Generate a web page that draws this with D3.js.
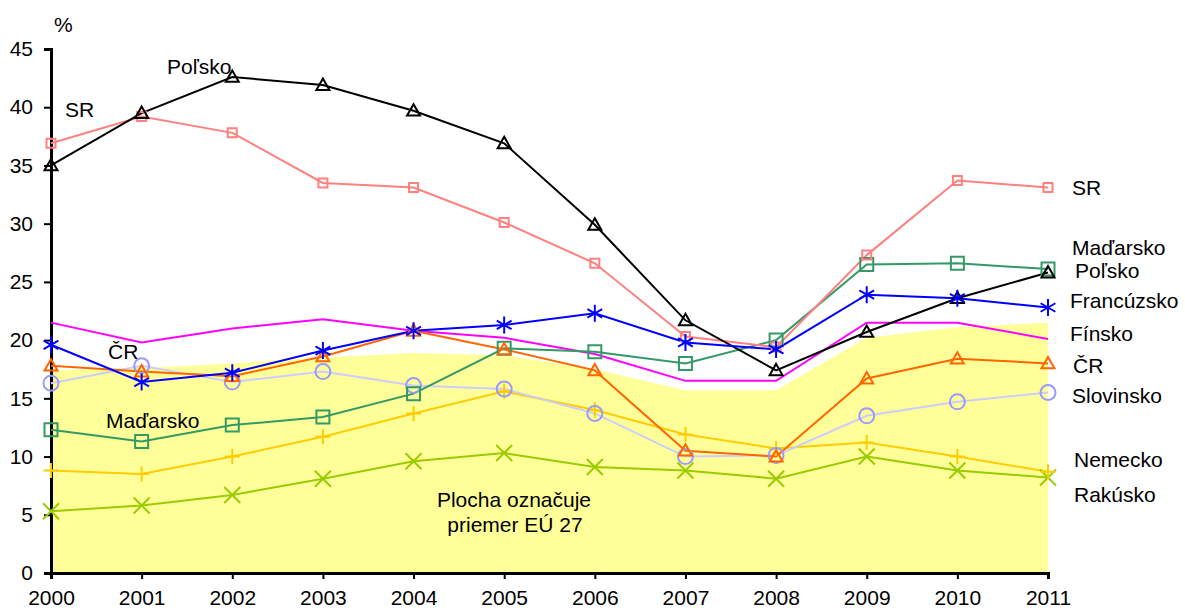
<!DOCTYPE html>
<html><head><meta charset="utf-8">
<script src="https://cdn.jsdelivr.net/npm/d3@7"></script>
<style>body{margin:0;background:#fff}svg text{font-family:"Liberation Sans",Arial,sans-serif;fill:#000}</style>
</head><body><svg id="c" width="1185" height="610"></svg>
<script>
const years = [2000,2001,2002,2003,2004,2005,2006,2007,2008,2009,2010,2011];
const yTicks = [0,5,10,15,20,25,30,35,40,45];
const eu27 = [17.4,17.6,18.0,18.5,18.9,18.7,17.5,15.7,15.7,20.2,21.1,21.5];
const finsko = [21.5,19.8,21.0,21.8,20.8,20.2,18.8,16.5,16.5,21.5,21.5,20.1];
const rakusko = [5.3,5.8,6.7,8.1,9.6,10.3,9.1,8.8,8.1,10.0,8.8,8.2];
const nemecko = [8.8,8.5,10.0,11.7,13.7,15.6,14.0,11.9,10.7,11.2,10.0,8.7];
const slovinsko = [16.3,17.8,16.4,17.3,16.1,15.8,13.7,10.0,10.1,13.5,14.7,15.5];
const madarsko = [12.3,11.3,12.7,13.4,15.4,19.3,19.0,18.0,20.0,26.5,26.6,26.1];
const cr = [17.8,17.3,16.9,18.6,20.8,19.2,17.4,10.5,10.0,16.7,18.4,18.0];
const sr = [36.9,39.2,37.8,33.5,33.1,30.1,26.6,20.3,19.4,27.3,33.7,33.1];
const polsko = [35.0,39.5,42.6,41.9,39.7,36.9,29.9,21.7,17.4,20.7,23.6,25.8];
const francuzsko = [19.6,16.4,17.2,19.1,20.8,21.3,22.3,19.8,19.2,23.9,23.6,22.8];

const series = [
  {name:"Fínsko", values:finsko, line:"#FF00FF", mark:null},
  {name:"Rakúsko", values:rakusko, line:"#99CC00", mark:"x", mc:"#99CC00", ms:8},
  {name:"Nemecko", values:nemecko, line:"#FFCC00", mark:"plus", mc:"#FFCC00", ms:7.5},
  {name:"Slovinsko", values:slovinsko, line:"#CCCCFF", mark:"circle", mc:"#9999FF", ms:7.5},
  {name:"Maďarsko", values:madarsko, line:"#339966", mark:"square", mc:"#339966", ms:6.5},
  {name:"ČR", values:cr, line:"#FF6600", mark:"tri", mc:"#FF6600", ms:6.5},
  {name:"SR", values:sr, line:"#FF8080", mark:"square", mc:"#FF8080", ms:4.5},
  {name:"Poľsko", values:polsko, line:"#000000", mark:"tri", mc:"#000000", ms:6.5},
  {name:"Francúzsko", values:francuzsko, line:"#0000FF", mark:"star", mc:"#0000FF", ms:8.5}
];

const svg = d3.select("#c");
const x = d3.scaleLinear().domain([2000,2011]).range([51,1048]);
const y = d3.scaleLinear().domain([0,45]).range([573,49]);

// EU27 area
svg.append("path").datum(eu27)
  .attr("d", d3.area().x((d,i)=>x(years[i])).y0(y(0)).y1(d=>y(d)))
  .attr("fill","#FFFF99");

// axes
const ya = svg.append("g").attr("transform","translate(51,0)")
  .call(d3.axisLeft(y).tickValues(yTicks).tickSize(7).tickPadding(11));
const xa = svg.append("g").attr("transform","translate(0,573)")
  .call(d3.axisBottom(x).tickValues(years).tickFormat(d3.format("d")).tickSize(6).tickPadding(8));
[ya,xa].forEach(a=>{
  a.select(".domain").attr("stroke","#000").attr("stroke-width",3);
  a.selectAll(".tick line").attr("stroke","#000").attr("stroke-width",2);
  a.selectAll("text").attr("font-size",21).attr("font-family","Liberation Sans, Arial, sans-serif");
});
xa.selectAll("text").attr("y",32).attr("dy",0);

const line = d3.line().x((d,i)=>x(years[i])).y(d=>y(d));

function markerPath(type, s){
  switch(type){
    case "x": return `M${-s},${-s}L${s},${s}M${-s},${s}L${s},${-s}`;
    case "plus": return `M${-s},0L${s},0M0,${-s}L0,${s}`;
    case "square": return `M${-s},${-s}H${s}V${s}H${-s}Z`;
    case "tri": return `M0,${-s}L${s},${s*0.75}L${-s},${s*0.75}Z`;
    case "star": {const a=s*0.87, b=s*0.5; return `M0,${-s}L0,${s}M${-a},${-b}L${a},${b}M${-a},${b}L${a},${-b}`;}
  }
  return "";
}

series.forEach(s=>{
  svg.append("path").datum(s.values).attr("d",line)
    .attr("fill","none").attr("stroke",s.line).attr("stroke-width",2);
});
series.forEach(s=>{
  if(!s.mark) return;
  const g = svg.append("g");
  s.values.forEach((v,i)=>{
    if(s.mark==="circle"){
      g.append("circle").attr("cx",x(years[i])).attr("cy",y(v)).attr("r",s.ms)
        .attr("fill","none").attr("stroke",s.mc).attr("stroke-width",2);
    } else {
      g.append("path").attr("transform",`translate(${x(years[i])},${y(v)})`)
        .attr("d",markerPath(s.mark,s.ms)).attr("fill","none")
        .attr("stroke",s.mc).attr("stroke-width",2);
    }
  });
});

// text labels
const labels = [
  {t:"%", x:54, y:32},
  {t:"SR", x:65, y:117},
  {t:"Poľsko", x:167, y:74},
  {t:"ČR", x:108, y:359},
  {t:"Maďarsko", x:106, y:428},
  {t:"SR", x:1072, y:195},
  {t:"Maďarsko", x:1072, y:255},
  {t:"Poľsko", x:1075, y:278},
  {t:"Francúzsko", x:1070, y:308},
  {t:"Fínsko", x:1070, y:341},
  {t:"ČR", x:1073, y:373},
  {t:"Slovinsko", x:1072, y:403},
  {t:"Nemecko", x:1074, y:467},
  {t:"Rakúsko", x:1074, y:502}
];
svg.append("g").selectAll("text").data(labels).join("text")
  .attr("x",d=>d.x).attr("y",d=>d.y).attr("font-size",21).text(d=>d.t);
svg.append("text").attr("x",514).attr("y",507).attr("text-anchor","middle").attr("font-size",21).text("Plocha označuje");
svg.append("text").attr("x",515).attr("y",532).attr("text-anchor","middle").attr("font-size",21).text("priemer EÚ 27");
</script></body></html>
